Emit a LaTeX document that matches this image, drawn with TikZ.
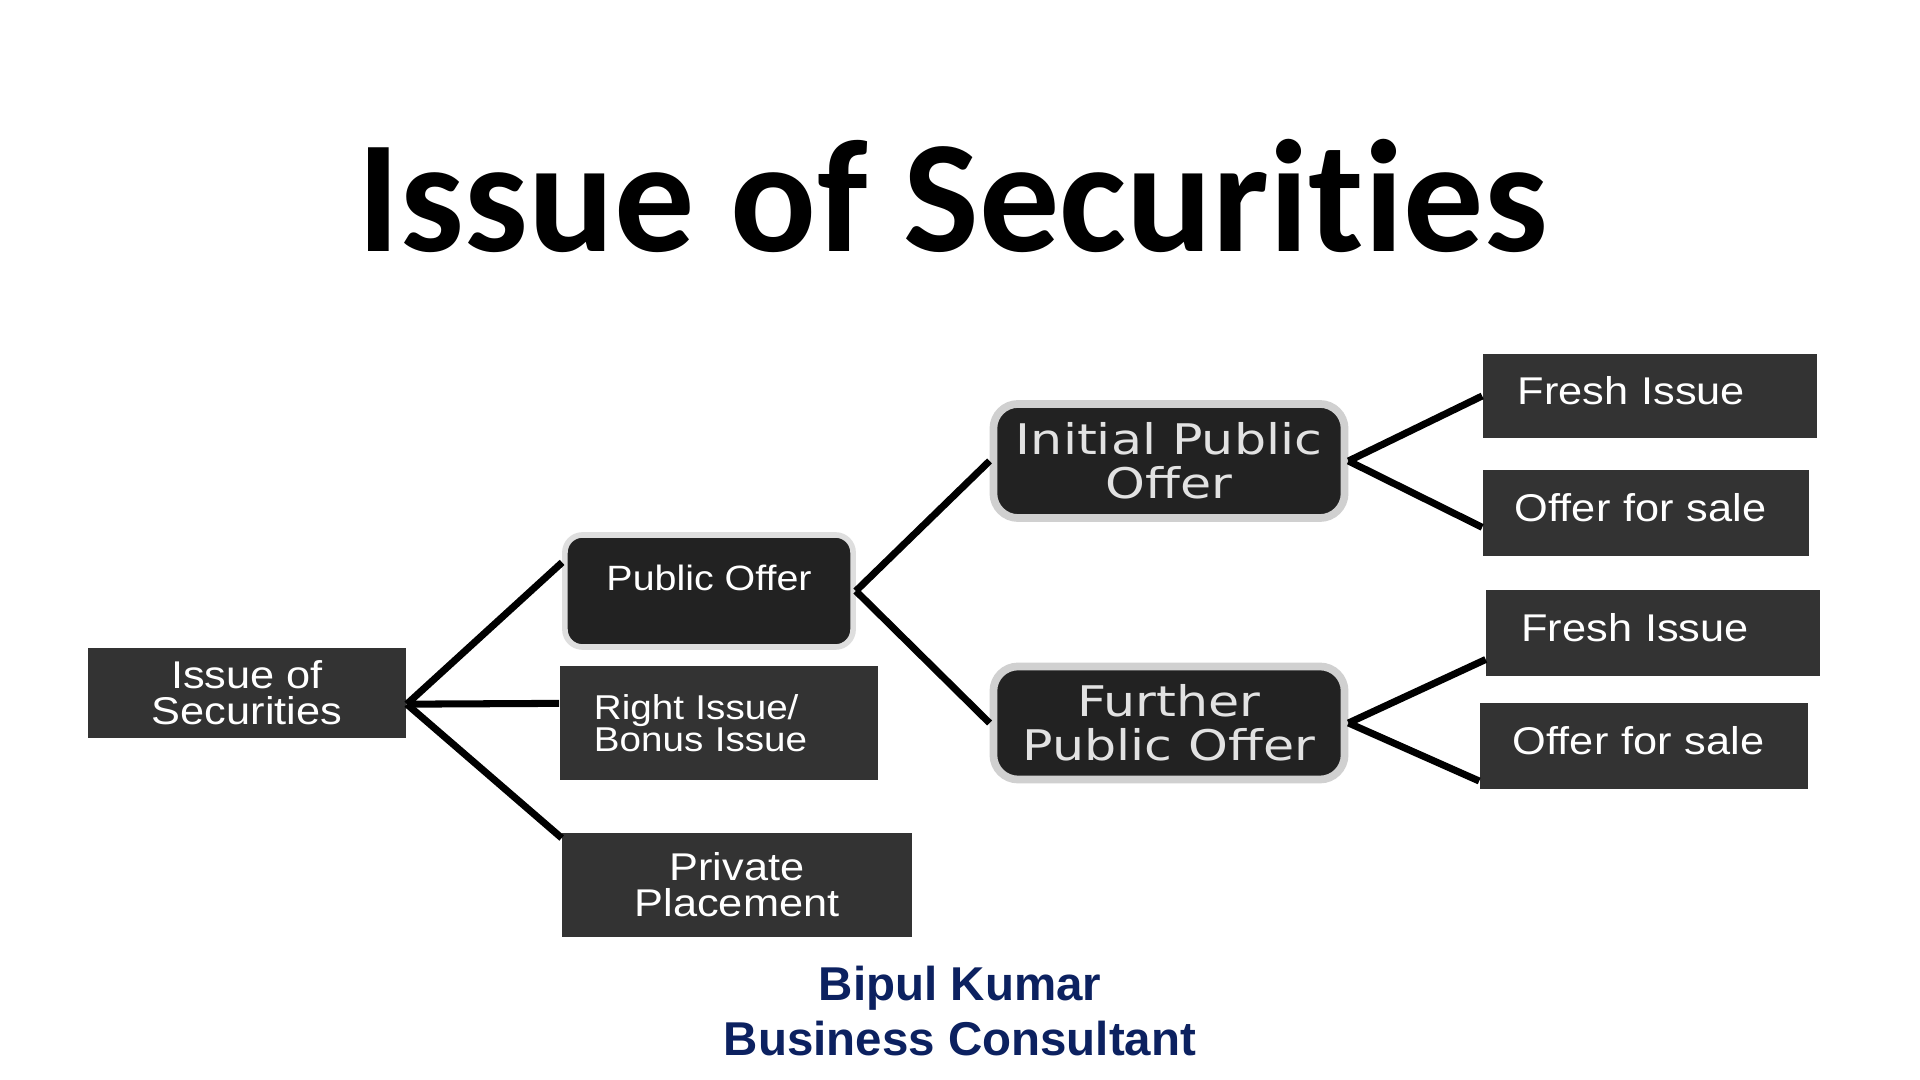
\documentclass[tikz,border=0pt]{standalone}
\usepackage{fontspec}
\setmainfont{Liberation Sans}
\newfontfamily\titlefont{Carlito}[Ligatures=NoCommon]
\newfontfamily\boxfont{Liberation Sans}[FakeStretch=1.12]
\newfontfamily\roundfont{DejaVu Sans}[FakeStretch=1.2]
\usepackage{tikz}
\usetikzlibrary{positioning}
\definecolor{boxgray}{HTML}{333333}
\definecolor{darkbox}{HTML}{222222}
\definecolor{rimgray}{HTML}{D0D0D0}
\definecolor{textgray}{HTML}{E2E2E2}
\definecolor{navyblue}{HTML}{0C2160}

\begin{document}
\begin{tikzpicture}[
    x=0.01cm, y=-0.01cm,
    box/.style   = {fill=boxgray, text=white, inner sep=0pt, align=center,
                    font=\boxfont\fontsize{11}{10.2}\selectfont},
    lbox/.style  = {box, align=left, inner xsep=0.35cm},
    leaf/.style  = {fill=boxgray, text=white, inner ysep=0pt, inner xsep=0.35cm,
                    text height=0.3cm, text depth=0.13cm,
                    font=\boxfont\fontsize{11}{12.6}\selectfont},
    rbox/.style  = {fill=darkbox, draw=rimgray, line width=2.2pt, rounded corners=7pt,
                    text=textgray, inner sep=0pt, align=center,
                    font=\roundfont\fontsize{12}{12.5}\selectfont},
    link/.style  = {line width=2pt, black},
  ]
    \useasboundingbox[fill=white] (0,0) rectangle (1920,1080);

    %% ── Title ───────────────────────────────────────────────────────────────
    \node[font=\titlefont\bfseries\fontsize{45.5}{50}\selectfont]
          (title) at (953,196) {Issue of Securities};

    %% ── First level ─────────────────────────────────────────────────────────
    \node[box, minimum width=3.18cm, minimum height=0.90cm] (root) at (247,693)
          {Issue of\\Securities};
    \node[box, fill=darkbox, draw=rimgray!70, line width=1.6pt,
          rounded corners=5pt, minimum width=2.88cm, minimum height=1.12cm,
          text height=0.3cm, text depth=0.3cm,
          font=\boxfont\fontsize{10}{12}\selectfont] (pub) at (709,591) {Public Offer};
    \node[lbox, text width=2.50cm, minimum height=1.14cm, inner xsep=0.34cm,
          font=\boxfont\fontsize{9.8}{9}\selectfont] (rights) at (719,723)
          {Right Issue/\\Bonus Issue};
    \node[box, minimum width=3.49cm, minimum height=1.03cm] (priv) at (737,885)
          {Private\\Placement};

    %% ── Second level ────────────────────────────────────────────────────────
    \node[rbox, minimum width=3.51cm, minimum height=1.14cm] (ipo) at (1169,461)
          {Initial Public\\Offer};
    \node[rbox, minimum width=3.51cm, minimum height=1.13cm] (fpo) at (1169,723)
          {Further\\Public Offer};

    %% ── Third level ─────────────────────────────────────────────────────────
    \node[leaf, text width=2.64cm, minimum height=0.84cm] (fresha) at (1650,396) {Fresh Issue};
    \node[leaf, text width=2.62cm, minimum height=0.86cm, inner xsep=0.32cm]
          (salea) at (1646,513) {Offer for sale};
    \node[leaf, text width=2.63cm, minimum height=0.85cm] (freshb) at (1653,633) {Fresh Issue};
    \node[leaf, text width=2.62cm, minimum height=0.85cm, inner xsep=0.33cm]
          (saleb) at (1644,746) {Offer for sale};

    %% ── Connectors ──────────────────────────────────────────────────────────
    \draw[link] (root.-4) -- (pub.169);
    \draw[link] (root.-4) -- (rights.173);
    \draw[link] (root.-4) -- (priv.165);

    \draw[link] (pub.east) -- (ipo.west);
    \draw[link] (pub.east) -- (fpo.west);

    \draw[link] (ipo.east) -- (fresha.west);
    \draw[link] (ipo.east) -- (salea.185);
    \draw[link] (fpo.east) -- (freshb.189);
    \draw[link] (fpo.east) -- (saleb.192);

    %% ── Author ──────────────────────────────────────────────────────────────
    \node[font=\bfseries\fontsize{13.5}{15.9}\selectfont, text=navyblue, align=center]
          (author) at (960,1011) {Bipul Kumar\\Business Consultant};

  \end{tikzpicture}
\end{document}
